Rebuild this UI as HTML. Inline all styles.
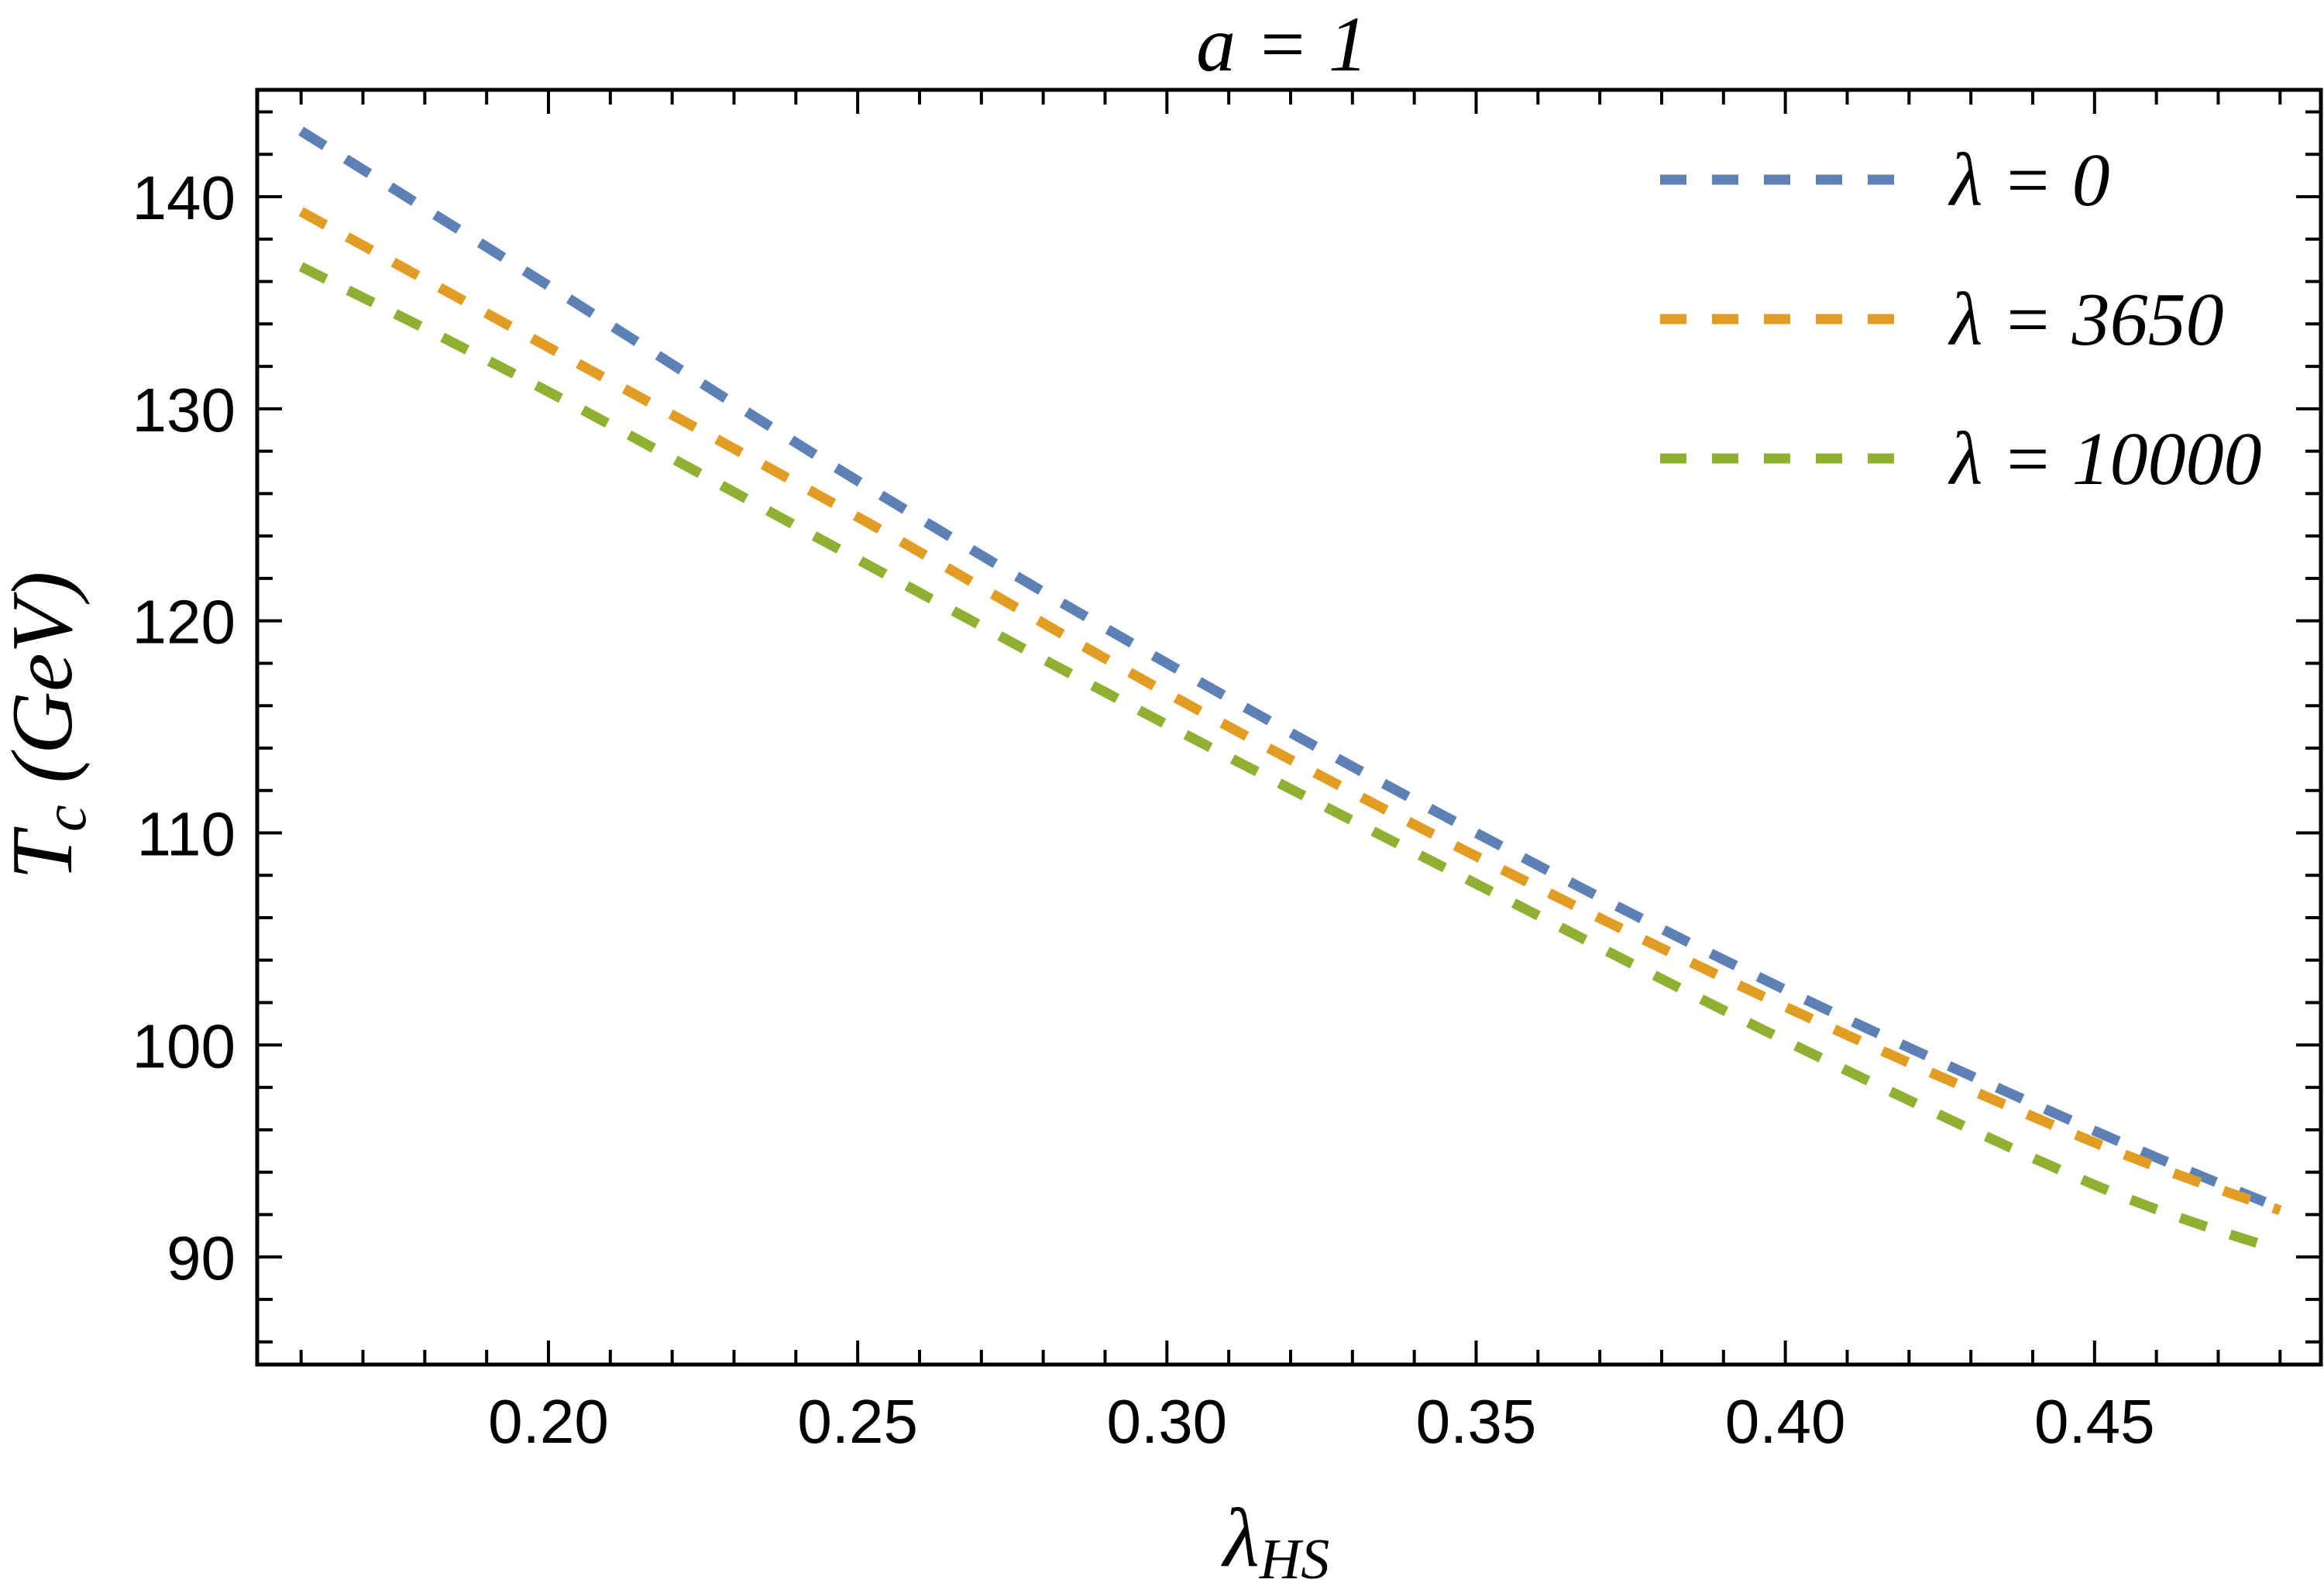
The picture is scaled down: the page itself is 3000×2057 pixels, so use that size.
<!DOCTYPE html>
<html><head><meta charset="utf-8"><style>
html,body{margin:0;padding:0;background:#fff;}
svg{display:block;}
text{fill:#000;}
.tk{font-family:"Liberation Sans",sans-serif;font-size:80px;}
.it{font-family:"Liberation Serif",serif;font-style:italic;}
</style></head><body>
<svg id="chart" width="3000" height="2057" viewBox="0 0 3000 2057" xmlns="http://www.w3.org/2000/svg">
<g id="grid"></g>
<g id="series"></g>
<rect x="332" y="116" width="2664" height="1646" fill="none" stroke="#000" stroke-width="5"/>
<g id="ticks"></g>
<text class="it" x="1655" y="91" font-size="102" text-anchor="middle">a = 1</text>
<text class="it" font-size="112" text-anchor="middle" transform="translate(92,937) rotate(-90)">T<tspan font-size="78" dy="18">c</tspan><tspan dy="-18"> (GeV)</tspan></text>
<text class="it" x="1579" y="2022" font-size="108">λ<tspan font-size="74" dy="16">HS</tspan></text>
<g id="legend"></g>
</svg>
<script>
const xs = [0.16,0.20,0.25,0.30,0.35,0.40,0.45,0.48];
const blue = [143.1,135.8,126.6,118.0,110.0,102.6,95.95,92.3];
const orange = [139.3,132.9,124.9,116.6,108.9,101.8,95.4,92.2];
const green = [136.7,130.8,122.9,115.1,107.6,100.2,93.4,90.3];
const xTicks = [0.20,0.25,0.30,0.35,0.40,0.45];
const xTickLabels = ["0.20","0.25","0.30","0.35","0.40","0.45"];
const yTicks = [90,100,110,120,130,140];
const yTickLabels = ["90","100","110","120","130","140"];
const legendLabels = ["λ = 0","λ = 3650","λ = 10000"];

const NS="http://www.w3.org/2000/svg";
const X0=332,X1=2996,Y0=116,Y1=1762;
const xmin=0.1529,xmax=0.4866,ymin=84.93,ymax=145.04;
function sx(v){return X0+(v-xmin)/(xmax-xmin)*(X1-X0);}
function sy(v){return Y1-(v-ymin)/(ymax-ymin)*(Y1-Y0);}
function mk(tag,attrs,parent){const e=document.createElementNS(NS,tag);for(const k in attrs)e.setAttribute(k,attrs[k]);parent.appendChild(e);return e;}

const ticks=document.getElementById('ticks');
for(let i=16;i<=48;i++){
  const v=i/100, major=(i%5===0), L=major?31:19, x=sx(v);
  let t=mk('line',{x1:x,x2:x,y1:Y1,y2:Y1-L,stroke:'#000','stroke-width':4},ticks);
  
  
  t=mk('line',{x1:x,x2:x,y1:Y0,y2:Y0+L,stroke:'#000','stroke-width':4},ticks);
  
  
}
for(let v=86;v<=144;v+=2){
  const major=(v%10===0), L=major?32:20, y=sy(v);
  let t=mk('line',{x1:X0,x2:X0+L,y1:y,y2:y,stroke:'#000','stroke-width':4},ticks);
  
  
  t=mk('line',{x1:X1,x2:X1-L,y1:y,y2:y,stroke:'#000','stroke-width':4},ticks);
  
  
}
xTicks.forEach((v,i)=>{
  const t=mk('text',{x:sx(v),y:1863,'text-anchor':'middle',class:'tk'},ticks);
  t.textContent=xTickLabels[i];
  
  
});
yTicks.forEach((v,i)=>{
  const t=mk('text',{x:304,y:sy(v)+29,'text-anchor':'end',class:'tk'},ticks);
  t.textContent=yTickLabels[i];
  
  
});

const colors=['#5e81b5','#e19c24','#8fb032'];
const seriesData=[blue,orange,green];
const sg=document.getElementById('series');
seriesData.forEach((ys,si)=>{
  const P=xs.map((x,i)=>[sx(x),sy(ys[i])]);
  let d='M'+P[0][0]+','+P[0][1];
  for(let i=0;i<P.length-1;i++){
    const p0=P[Math.max(0,i-1)],p1=P[i],p2=P[i+1],p3=P[Math.min(P.length-1,i+2)];
    const c1=[p1[0]+(p2[0]-p0[0])/6,p1[1]+(p2[1]-p0[1])/6];
    const c2=[p2[0]-(p3[0]-p1[0])/6,p2[1]-(p3[1]-p1[1])/6];
    d+=' C'+c1+' '+c2+' '+p2;
  }
  const p=mk('path',{d:d,fill:'none',stroke:colors[si],'stroke-width':13,'stroke-dasharray':'36 32'},sg);
  
  
});

const lg=document.getElementById('legend');
const lgY=[232,412,592];
legendLabels.forEach((lab,i)=>{
  const l=mk('line',{x1:2143,x2:2445,y1:lgY[i],y2:lgY[i],stroke:colors[i],'stroke-width':13,'stroke-dasharray':'34 33'},lg);
  
  
  const t=mk('text',{x:2517,y:lgY[i]+33,class:'it','font-size':98},lg);
  t.textContent=lab;
  
  
});
</script>
</body></html>
